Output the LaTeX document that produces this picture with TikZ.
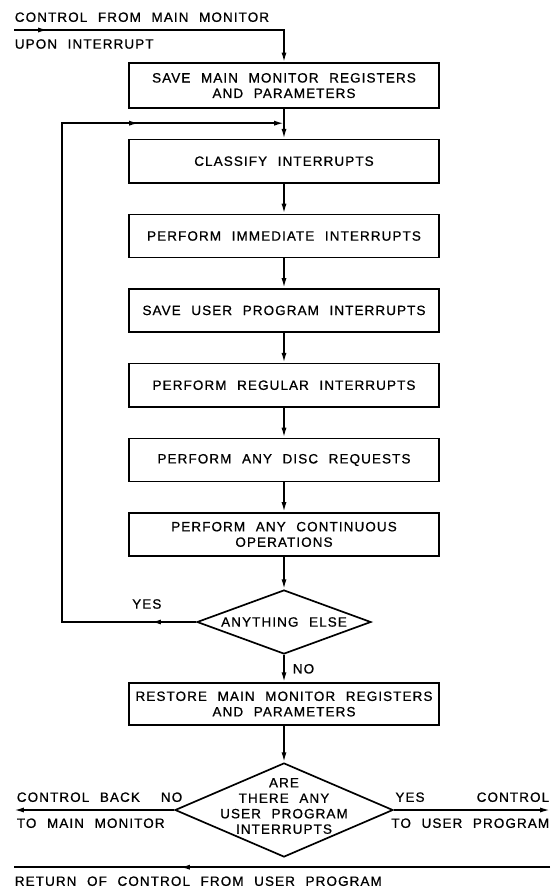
\documentclass[tikz,border=0pt]{standalone}
\usepackage{fontspec}
\setmainfont{Liberation Sans}[LetterSpace=8,WordSpace=2.2,FakeBold=0.8]
\usepackage{tikz}
\usetikzlibrary{shapes.geometric,arrows.meta,decorations.markings}

\begin{document}
\begin{tikzpicture}[
        line width=1.2pt,
        font=\fontsize{9.6}{11}\selectfont,
        >={Latex[length=7pt,width=3.6pt]},
        box/.style={draw, align=center, inner sep=0pt, minimum width=7.75cm, minimum height=1.08cm},
        decision/.style={draw, diamond, inner sep=0pt},
        lbl/.style={inner sep=0pt, align=center},
        arrowat/.style={postaction={decorate}, decoration={markings, mark=at position #1 with {\arrow{>}}}}
    ]
        \useasboundingbox (0,0) rectangle (13.9,-22.2);

        \node[box, minimum height=1.12cm] (savemain) at (7.1,-2.14) {SAVE MAIN MONITOR REGISTERS\\AND PARAMETERS};
        \node[box] (classify) at (7.1,-4.03) {CLASSIFY INTERRUPTS};
        \node[box] (immediate) at (7.1,-5.9) {PERFORM IMMEDIATE INTERRUPTS};
        \node[box] (saveuser) at (7.1,-7.76) {SAVE USER PROGRAM INTERRUPTS};
        \node[box] (regular) at (7.1,-9.63) {PERFORM REGULAR INTERRUPTS};
        \node[box] (disc) at (7.1,-11.5) {PERFORM ANY DISC REQUESTS};
        \node[box] (continuous) at (7.1,-13.36) {PERFORM ANY CONTINUOUS\\OPERATIONS};
        \node[decision, minimum width=4.35cm, minimum height=1.6cm] (anything) at (7.1,-15.55) {};
        \node[lbl] (anythingtxt) at (anything) {ANYTHING ELSE};
        \node[box, minimum height=1.05cm] (restore) at (7.1,-17.6) {RESTORE MAIN MONITOR REGISTERS\\AND PARAMETERS};
        \node[decision, minimum width=5.45cm, minimum height=2.35cm] (anyuser) at (7.1,-20.25) {};
        \node[lbl, yshift=0.1cm] (anyusertxt) at (anyuser) {ARE\\THERE ANY\\USER PROGRAM\\INTERRUPTS};

        \node[lbl, anchor=west] (frommain) at (0.35,-0.43) {CONTROL FROM MAIN MONITOR};
        \node[lbl, anchor=west] (upon) at (0.35,-1.1) {UPON INTERRUPT};
        \node[lbl] (yesloop) at (3.67,-15.1) {YES};
        \node[lbl, anchor=west] (noelse) at (7.3,-16.72) {NO};
        \node[lbl, anchor=west] (ctrlback) at (0.4,-19.93) {CONTROL BACK};
        \node[lbl, anchor=west] (tomain) at (0.4,-20.58) {TO MAIN MONITOR};
        \node[lbl] (nouser) at (4.29,-19.93) {NO};
        \node[lbl] (yesuser) at (10.25,-19.93) {YES};
        \node[lbl, anchor=east] (ctrl) at (13.75,-19.93) {CONTROL};
        \node[lbl, anchor=east] (touser) at (13.75,-20.58) {TO USER PROGRAM};
        \node[lbl, anchor=west] (return) at (0.35,-22.03) {RETURN OF CONTROL FROM USER PROGRAM};

        \coordinate (entry) at (0.35,-0.75);
        \coordinate (join) at (7.1,-3.08);
        \coordinate (exitleft) at (0.35,-20.25);
        \coordinate (exitright) at (13.75,-20.25);
        \coordinate (returnright) at (13.75,-21.68);
        \coordinate (returnleft) at (0.35,-21.68);

        \draw[->, arrowat=0.85cm] (entry) -| (savemain.north);
        \draw[->] (savemain) -- (classify);
        \draw[->] (classify) -- (immediate);
        \draw[->] (immediate) -- (saveuser);
        \draw[->] (saveuser) -- (regular);
        \draw[->] (regular) -- (disc);
        \draw[->] (disc) -- (continuous);
        \draw[->] (continuous) -- (anything);
        \draw[->] (anything) -- (restore);
        \draw[->] (restore) -- (anyuser);

        \draw[->, postaction={decorate}, decoration={markings,
                mark=at position 1.125cm with {\arrow{>}},
                mark=at position 17.75cm with {\arrow{>}}}]
            (anything.west) -| (1.55,-3.08) -- (join);

        \draw[->] (anyuser.west) -- (exitleft);
        \draw[->] (anyuser.east) -- (exitright);
        \draw[arrowat=9.25cm] (returnright) -- (returnleft);
\end{tikzpicture}
\end{document}
